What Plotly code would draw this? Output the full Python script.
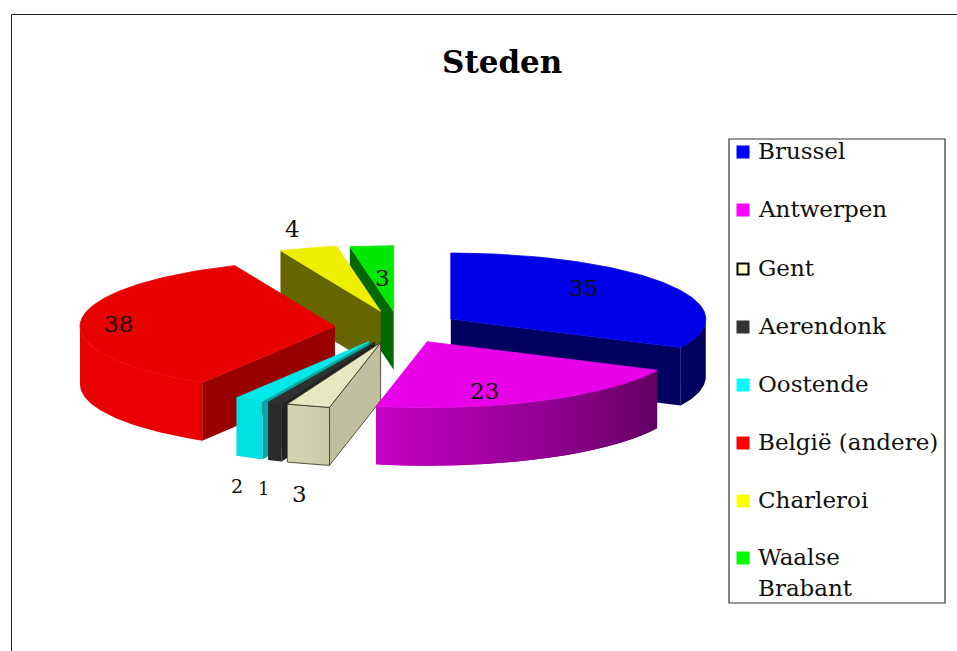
import math
import plotly.graph_objects as go

title = "Steden"
categories = ["Brussel", "Antwerpen", "Gent", "Aerendonk", "Oostende", "België (andere)", "Charleroi", "Waalse Brabant"]
values = [35, 23, 3, 1, 2, 38, 4, 3]
legend_colors = ["#0000ff", "#ff00ff", "#ffffcc", "#333333", "#00ffff", "#ff0000", "#ffff00", "#00ff00"]
top_colors = ["#0000e8", "#e800e8", "#e8e8c0", "#303030", "#00e8e8", "#e80000", "#eeee00", "#00e800"]
rim_start = [(0, 0, 96), (96, 0, 96), (204, 204, 168), (42, 42, 42), (0, 224, 224), (234, 0, 0), (102, 102, 0), (0, 104, 0)]
rim_end = [(0, 0, 96), (196, 0, 196), (212, 212, 176), (42, 42, 42), (0, 224, 224), (234, 0, 0), (102, 102, 0), (0, 104, 0)]
cut_colors = ["#000060", "#800080", "#c0c0a0", "#222222", "#00a8a8", "#980000", "#666600", "#006800"]
label_pos = [(583, 288), (484, 391), (299, 494), (263, 488), (237, 486), (118, 324), (292, 229), (382, 278)]
label_size = [23, 23, 23, 18, 19, 23, 23, 23]
draw_order = [7, 6, 0, 5, 4, 3, 2, 1]
nudge = [(0, 0), (1, 0), (-1, 0), (0, 0), (-1, 0), (-3, 0), (-1, -1), (0, 0)]

CX, CY, RX, RY, H, EXPLODE = 399, 327.5, 255, 66, 58, 0.24
legend_rows = [151, 209, 268, 326, 384, 442, 500, 557]

fig = go.Figure()


def poly(xs, ys, color, line_color=None):
    fig.add_trace(go.Scatter(x=xs, y=ys, mode="lines", fill="toself", fillcolor=color,
                             line=dict(color=line_color or color, width=0.8 if line_color else 0),
                             hoverinfo="skip", showlegend=False))


total = sum(values)
starts = [sum(values[:i]) / total * 2 * math.pi for i in range(len(values))]


def pt(ax, ay, ang):
    return ax + RX * math.sin(ang), ay - RY * math.cos(ang)


for i in draw_order:
    a = starts[i]
    b = a + values[i] / total * 2 * math.pi
    mid = (a + b) / 2
    ax = CX + EXPLODE * RX * math.sin(mid) + nudge[i][0]
    ay = CY - EXPLODE * RY * math.cos(mid) + nudge[i][1]
    outline = "#333322" if i == 2 else None
    # radial cut faces that face the viewer
    for edge, normal in ((a, a - math.pi / 2), (b, b + math.pi / 2)):
        if math.cos(normal) < 0:
            ex, ey = pt(ax, ay, edge)
            poly([ax, ex, ex, ax, ax], [ay, ey, ey + H, ay + H, ay], cut_colors[i], outline)
    # outer rim, as narrow overlapping bands for the shading
    lo, hi = max(a, math.pi / 2), min(b, 3 * math.pi / 2)
    if hi > lo:
        steps = 1 if rim_start[i] == rim_end[i] else 48
        for k in range(steps):
            t0 = lo + (hi - lo) * k / steps
            t1 = lo + (hi - lo) * min(k + 2, steps) / steps
            f = (k + 0.5) / steps
            c = "rgb(%d,%d,%d)" % tuple(round(s + (e - s) * f) for s, e in zip(rim_start[i], rim_end[i]))
            m = max(2, int((t1 - t0) / 0.02))
            arc = [pt(ax, ay, t0 + (t1 - t0) * j / m) for j in range(m + 1)]
            poly([p[0] for p in arc] + [p[0] for p in arc[::-1]] + [arc[0][0]],
                 [p[1] for p in arc] + [p[1] + H for p in arc[::-1]] + [arc[0][1]], c)
        if outline:
            m = 24
            arc = [pt(ax, ay, lo + (hi - lo) * k / m) for k in range(m + 1)]
            fig.add_trace(go.Scatter(x=[p[0] for p in arc] + [p[0] for p in arc[::-1]] + [arc[0][0]],
                                     y=[p[1] for p in arc] + [p[1] + H for p in arc[::-1]] + [arc[0][1]],
                                     mode="lines", line=dict(color=outline, width=0.8),
                                     hoverinfo="skip", showlegend=False))
    # top face
    m = max(3, int((b - a) / 0.02))
    arc = [pt(ax, ay, a + (b - a) * k / m) for k in range(m + 1)]
    poly([ax] + [p[0] for p in arc] + [ax], [ay] + [p[1] for p in arc] + [ay], top_colors[i],
         outline or top_colors[i])

# legend markers
for i, cat in enumerate(categories):
    fig.add_trace(go.Scatter(x=[743], y=[legend_rows[i] + 1], mode="markers",
                             marker=dict(symbol="square", size=13 if i != 2 else 11, color=legend_colors[i],
                                         line=dict(color="#000000", width=2 if i == 2 else 0)),
                             hoverinfo="skip", showlegend=False))

FONT = "DejaVu Serif"
ann = []
for i, cat in enumerate(categories):
    lines = [cat] if i < 7 else cat.split(" ")
    for j, t in enumerate(lines):
        ann.append(dict(x=755.5, y=legend_rows[i] + j * 31, text=t, xref="x", yref="y", showarrow=False,
                        xanchor="left", yanchor="middle", font=dict(family=FONT, size=23, color="#111111")))
for v, (x, y), s in zip(values, label_pos, label_size):
    ann.append(dict(x=x, y=y, text=str(v), xref="x", yref="y", showarrow=False,
                    xanchor="center", yanchor="middle", font=dict(family=FONT, size=s, color="#111111")))
ann.append(dict(x=502, y=62, text="<b>%s</b>" % title, xref="x", yref="y", showarrow=False,
                xanchor="center", yanchor="middle", font=dict(family=FONT, size=31, color="#000000")))

shapes = [
    dict(type="rect", xref="x", yref="y", x0=729, y0=139, x1=945, y1=603,
         line=dict(color="#333333", width=1.2), layer="below"),
    dict(type="line", xref="x", yref="y", x0=11.5, y0=14.5, x1=957, y1=14.5, line=dict(color="#222222", width=1)),
    dict(type="line", xref="x", yref="y", x0=11.5, y0=14.5, x1=11.5, y1=651, line=dict(color="#222222", width=1)),
]

fig.update_layout(
    width=957, height=651, margin=dict(l=0, r=0, t=0, b=0), autosize=False,
    paper_bgcolor="#ffffff", plot_bgcolor="#ffffff", showlegend=False,
    xaxis=dict(range=[0, 957], visible=False, fixedrange=True),
    yaxis=dict(range=[651, 0], visible=False, fixedrange=True),
    annotations=ann, shapes=shapes,
)
fig.write_html("out.html", config=dict(displayModeBar=False),
               post_script="document.body.style.margin='0';document.body.style.overflow='hidden';")
